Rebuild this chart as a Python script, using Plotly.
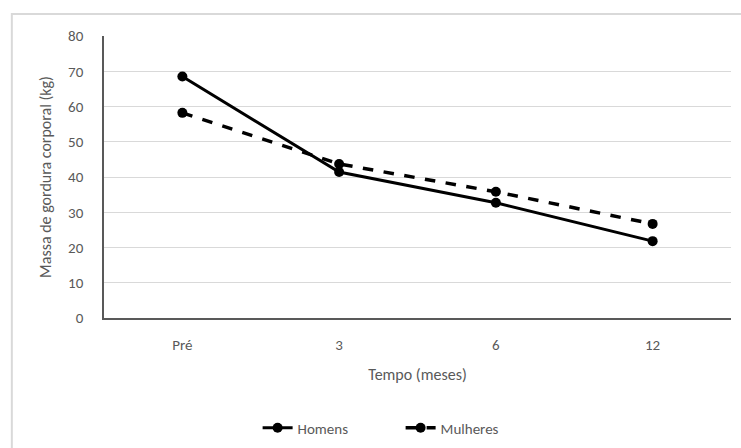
import plotly.graph_objects as go

categories = ["Pré", "3", "6", "12"]
homens = [68.5, 41.4, 32.7, 21.8]
mulheres = [58.2, 43.7, 35.8, 26.7]
y_ticks = [0, 10, 20, 30, 40, 50, 60, 70, 80]

FONT = "Carlito, Lato, 'Liberation Sans', sans-serif"
GRAY = "#595959"

fig = go.Figure()
fig.add_trace(go.Scatter(
    x=categories, y=homens, name="Homens", mode="lines+markers",
    line=dict(color="black", width=3),
    marker=dict(symbol="circle", size=10, color="black"),
))
fig.add_trace(go.Scatter(
    x=categories, y=mulheres, name="Mulheres", mode="lines+markers",
    line=dict(color="black", width=3.5, dash="dash"),
    marker=dict(symbol="circle", size=10, color="black"),
))

fig.update_layout(
    width=741, height=448,
    margin=dict(l=104, r=10, t=36, b=130, autoexpand=False),
    paper_bgcolor="white", plot_bgcolor="white",
    font=dict(family=FONT, color=GRAY, size=15),
    showlegend=True,
    legend=dict(orientation="h", x=0.245, xanchor="left", y=-0.39, yanchor="middle",
                font=dict(size=15, color=GRAY), entrywidth=98, entrywidthmode="pixels",
                bgcolor="rgba(0,0,0,0)"),
    xaxis=dict(
        type="category", categoryorder="array", categoryarray=categories,
        showline=True, linecolor="#595959", linewidth=1.5, automargin=False,
        showgrid=False, ticks="", tickfont=dict(size=15, color=GRAY), ticklabelstandoff=12,
        title=dict(text="Tempo (meses)", font=dict(size=16, color=GRAY), standoff=16),
        range=[-0.5, 3.5],
    ),
    yaxis=dict(
        range=[0, 80], tickvals=y_ticks, showgrid=True, gridcolor="#d9d9d9", gridwidth=1,
        showline=True, linecolor="#595959", linewidth=1.5, zeroline=False, automargin=False,
        ticks="", tickfont=dict(size=15, color=GRAY), ticklabelstandoff=16,
        title=dict(text="Massa de gordura corporal (kg)", font=dict(size=16, color=GRAY), standoff=12),
    ),
    shapes=[dict(type="rect", xref="paper", yref="paper",
                 x0=-0.147, x1=1.1, y0=-0.5, y1=1.078,
                 line=dict(color="#d9d9d9", width=2), fillcolor="rgba(0,0,0,0)", layer="below")],
)

fig.write_html("out.html", config={"displayModeBar": False},
               post_script="document.body.style.margin='0';")
